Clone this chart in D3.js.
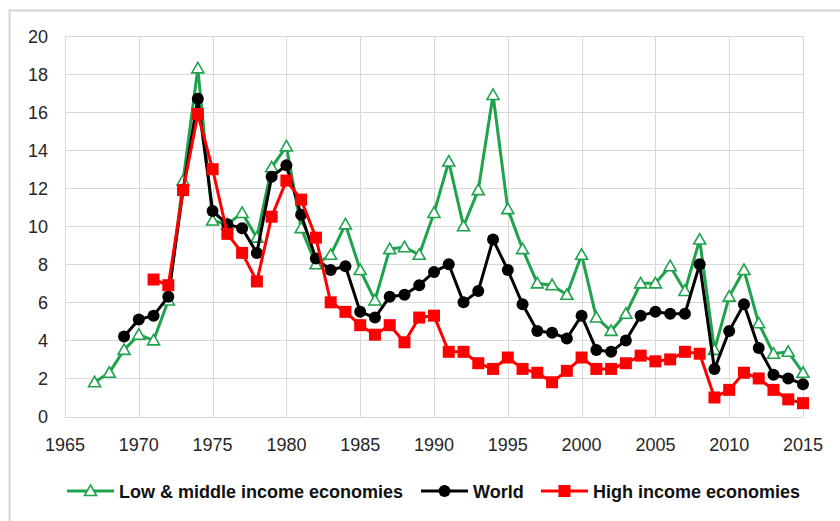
<!DOCTYPE html>
<html>
<head>
<meta charset="utf-8">
<script src="https://cdn.jsdelivr.net/npm/d3@7/dist/d3.min.js"></script>
<style>
    html, body { margin:0; padding:0; background:#fff; }
    svg { display:block; }
    .grid line { stroke:#d9d9d9; stroke-width:1; shape-rendering:crispEdges; }
    .tick-label { font-family:'Liberation Sans', Arial, sans-serif; font-size:18px; fill:#262626; }
    .legend text { font-family:'Liberation Sans', Arial, sans-serif; font-size:18px; font-weight:bold; fill:#111; }
</style>
</head>
<body>
<svg id="chart" width="840" height="521"></svg>
<script>
'use strict';

var lowMiddleStart = 1967,
    lowMiddle = [1.8, 2.3, 3.5, 4.3, 4.0, 6.1, 12.4, 18.3, 10.3, 10.1, 10.7, 9.4, 13.1, 14.2, 9.9, 8.0,
                 8.5, 10.1, 7.7, 6.1, 8.8, 8.9, 8.5, 10.7, 13.4, 10.0, 11.9, 16.9, 10.9, 8.8, 7.0, 6.9,
                 6.4, 8.5, 5.2, 4.5, 5.4, 7.0, 7.0, 7.9, 6.6, 9.3, 3.5, 6.3, 7.7, 4.9, 3.3, 3.4, 2.3];

var worldStart = 1969,
    world = [4.2, 5.1, 5.3, 6.3, 11.9, 16.7, 10.8, 10.1, 9.9, 8.6, 12.6, 13.2, 10.6, 8.3,
             7.7, 7.9, 5.5, 5.2, 6.3, 6.4, 6.9, 7.6, 8.0, 6.0, 6.6, 9.3, 7.7, 5.9, 4.5, 4.4,
             4.1, 5.3, 3.5, 3.4, 4.0, 5.3, 5.5, 5.4, 5.4, 8.0, 2.5, 4.5, 5.9, 3.6, 2.2, 2.0, 1.7];

var highStart = 1971,
    high = [7.2, 6.9, 11.9, 15.9, 13.0, 9.6, 8.6, 7.1, 10.5, 12.4, 11.4, 9.4,
            6.0, 5.5, 4.8, 4.3, 4.8, 3.9, 5.2, 5.3, 3.4, 3.4, 2.8, 2.5, 3.1, 2.5, 2.3, 1.8,
            2.4, 3.1, 2.5, 2.5, 2.8, 3.2, 2.9, 3.0, 3.4, 3.3, 1.0, 1.4, 2.3, 2.0, 1.4, 0.9, 0.7];

var xTicks = [1965, 1970, 1975, 1980, 1985, 1990, 1995, 2000, 2005, 2010, 2015],
    yTicks = [0, 2, 4, 6, 8, 10, 12, 14, 16, 18, 20];

var seriesNames = ['Low & middle income economies', 'World', 'High income economies'];


(function() {
    var svg = d3.select('#chart');

    var M = { left:65, right:803, top:36, bottom:416.5 };

    var x = d3.scaleLinear().domain([1965, 2015]).range([M.left, M.right]),
        y = d3.scaleLinear().domain([0, 20]).range([M.bottom, M.top]);

    function rows(start, values) {
        return values.map(function(v, i){ return { year:start + i, value:v }; });
    }

    var series = [
        { name:seriesNames[0], data:rows(lowMiddleStart, lowMiddle), color:'#1fa24c', marker:'triangle' },
        { name:seriesNames[1], data:rows(worldStart, world),         color:'#000000', marker:'circle' },
        { name:seriesNames[2], data:rows(highStart, high),           color:'#ff0000', marker:'square' }
    ];

    /******************************************************************
        outer frame
     ******************************************************************/
    svg.append('path')
        .attr('d','M9.5 530 L9.5 10.5 L850 10.5')
        .attr('fill','none')
        .attr('stroke','#d4d4d4')
        .attr('stroke-width', 2);

    /******************************************************************
        grid + tick labels
     ******************************************************************/
    var grid = svg.append('g').attr('class','grid');

    grid.selectAll('.hline')
        .data(yTicks).enter()
            .append('line')
                .attr('x1', M.left)
                .attr('x2', M.right)
                .attr('y1', function(d){ return Math.round(y(d)) + 0.5; })
                .attr('y2', function(d){ return Math.round(y(d)) + 0.5; });

    grid.selectAll('.vline')
        .data(xTicks).enter()
            .append('line')
                .attr('x1', function(d){ return Math.round(x(d)) + 0.5; })
                .attr('x2', function(d){ return Math.round(x(d)) + 0.5; })
                .attr('y1', M.top)
                .attr('y2', M.bottom);

    svg.selectAll('.ylab')
        .data(yTicks).enter()
            .append('text')
                .attr('class','tick-label')
                .attr('text-anchor','end')
                .attr('x', 48)
                .attr('y', function(d){ return y(d) + 6.5; })
                .text(function(d){ return d; });

    svg.selectAll('.xlab')
        .data(xTicks).enter()
            .append('text')
                .attr('class','tick-label')
                .attr('text-anchor','middle')
                .attr('x', function(d){ return x(d); })
                .attr('y', 451)
                .text(function(d){ return d; });

    /******************************************************************
        markers
     ******************************************************************/
    function marker(sel, s) {
        if (s.marker === 'triangle') {
            sel.append('path')
                .attr('d','M0 -6 L6 4.5 L-6 4.5 Z')
                .attr('fill','#fff')
                .attr('stroke', s.color)
                .attr('stroke-width', 1.6);
        } else if (s.marker === 'circle') {
            sel.append('circle')
                .attr('r', 6)
                .attr('fill', s.color);
        } else {
            sel.append('rect')
                .attr('x', -6)
                .attr('y', -6)
                .attr('width', 12)
                .attr('height', 12)
                .attr('fill', s.color);
        }
    }

    /******************************************************************
        series
     ******************************************************************/
    var line = d3.line()
        .x(function(d){ return x(d.year); })
        .y(function(d){ return y(d.value); });

    series.forEach(function(s) {
        var g = svg.append('g').attr('class','series');

        g.append('path')
            .datum(s.data)
            .attr('d', line)
            .attr('fill','none')
            .attr('stroke', s.color)
            .attr('stroke-width', 3)
            .attr('stroke-linejoin','round');

        g.selectAll('.pt')
            .data(s.data).enter()
                .append('g')
                    .attr('transform', function(d){ return 'translate('+ [x(d.year), y(d.value)] +')'; })
                    .each(function(){ marker(d3.select(this), s); });
    });

    /******************************************************************
        legend
     ******************************************************************/
    var legendPos = [67, 421, 541],
        legend = svg.append('g').attr('class','legend');

    series.forEach(function(s, i) {
        var g = legend.append('g')
            .attr('transform','translate('+ [legendPos[i], 491] +')');

        g.append('line')
            .attr('x1', 0)
            .attr('x2', 47)
            .attr('stroke', s.color)
            .attr('stroke-width', 3);

        marker(g.append('g').attr('transform','translate(23.5,0)'), s);

        g.append('text')
            .attr('x', 52)
            .attr('y', 6.5)
            .text(s.name);
    });
})();
</script>
</body>
</html>
